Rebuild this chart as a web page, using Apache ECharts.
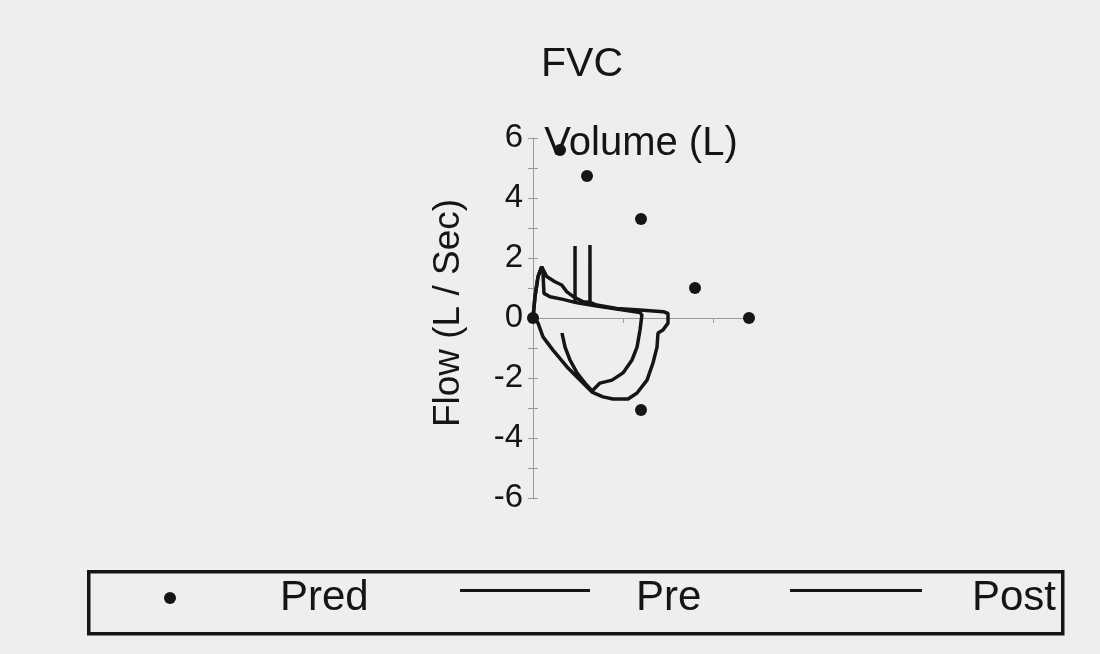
<!DOCTYPE html>
<html>
<head>
<meta charset="utf-8">
<script src="https://cdn.jsdelivr.net/npm/echarts@6/dist/echarts.min.js"></script>
<style>
html,body{margin:0;padding:0;background:#eeeeee;}
#chart{width:1100px;height:654px;}
</style>
</head>
<body>
<div id="chart"></div>
<script>
// Predicted values: [volume (L), flow (L/s)]
const predPoints = [
  [0, 0], [0.3, 5.6], [0.6, 4.73], [1.2, 3.3], [1.8, 1.0], [2.4, 0], [1.2, -3.07]
];
// Pre loop: [volume, flow]
const preCurve = [
  [0, 0], [0.022, 0.71], [0.056, 1.38], [0.097, 1.71], [0.152, 1.38], [0.244, 1.21],
  [0.319, 1.10], [0.374, 0.88], [0.448, 0.71], [0.559, 0.54], [0.633, 0.52],
  [0.633, 2.43], [0.633, 0.52],
  [0.708, 0.43], [0.930, 0.32], [1.189, 0.27], [1.448, 0.21], [1.50, 0.15],
  [1.50, -0.17], [1.444, -0.40], [1.389, -0.50], [1.378, -0.97], [1.333, -1.50],
  [1.267, -2.07], [1.156, -2.50], [1.056, -2.70], [0.889, -2.70], [0.778, -2.63],
  [0.656, -2.47], [0.522, -2.07], [0.378, -1.63], [0.222, -1.07], [0.111, -0.63],
  [0.056, -0.17], [0.022, 0]
];
// Post loop: [volume, flow]
const postCurve = [
  [0, 0], [0.022, 0.71], [0.056, 1.38], [0.097, 1.71], [0.111, 1.5], [0.122, 0.82],
  [0.189, 0.71], [0.333, 0.62], [0.467, 0.52], [0.467, 2.40], [0.467, 0.52],
  [0.522, 0.49], [0.708, 0.40], [0.930, 0.30], [1.189, 0.18], [1.21, 0.10],
  [1.189, -0.40], [1.156, -0.97], [1.10, -1.40], [1.0, -1.83], [0.878, -2.07],
  [0.744, -2.17], [0.656, -2.43], [0.578, -2.17], [0.489, -1.83], [0.411, -1.40],
  [0.356, -0.97], [0.322, -0.50]
];
const yTickLabels = ['-6', '-4', '-2', '0', '2', '4', '6'];
const seriesNames = ['Pred', 'Pre', 'Post'];
const chartTitle = 'FVC';
const xName = 'Volume (L)';
const yName = 'Flow (L / Sec)';

const FONT = 'Liberation Sans, Arial, sans-serif';
const INK = '#151515';
const AX = '#9a9a9a';

// legend line icon: a 3px bar at the top of an 18px-high box
function barIcon(w) {
  return 'path://M0,0H' + w + 'V3H0Z M0,17.9H0.05V18H0Z';
}

const chart = echarts.init(document.getElementById('chart'));
const yBase = {
  type: 'value', min: -6, max: 6, interval: 1, gridIndex: 0,
  splitLine: { show: false },
  axisLine: { show: true, onZero: true, lineStyle: { color: AX, width: 1 } }
};
const xBase = {
  type: 'value', min: 0, max: 2.4, interval: 1,
  splitLine: { show: false },
  axisLabel: { show: false }
};
chart.setOption({
  backgroundColor: '#eeeeee',
  animation: false,
  title: {
    text: chartTitle, left: 541, top: 44, padding: 0,
    textStyle: { fontFamily: FONT, fontSize: 41, fontWeight: 'normal', color: INK }
  },
  grid: { left: 533, top: 138, width: 216, height: 360, containLabel: false },
  xAxis: [
    Object.assign({}, xBase, {
      axisLine: { show: true, onZero: true, lineStyle: { color: AX, width: 1 } },
      axisTick: { show: true, length: 5, lineStyle: { color: AX } }
    }),
    Object.assign({}, xBase, {
      position: 'top',
      axisLine: { show: false, onZero: false },
      axisTick: { show: false },
      name: xName, nameLocation: 'middle', nameGap: -26,
      nameTextStyle: { fontFamily: FONT, fontSize: 40, color: INK }
    }),
    Object.assign({}, xBase, {
      axisLine: { show: true, onZero: true, lineStyle: { color: AX, width: 1 } },
      axisTick: { show: true, inside: true, length: 5, lineStyle: { color: AX } }
    })
  ],
  yAxis: [
    Object.assign({}, yBase, {
      axisTick: { show: true, length: 5, lineStyle: { color: AX } },
      axisLabel: {
        show: true, margin: 10, fontFamily: FONT, fontSize: 33, color: INK,
        formatter: function (v) { return yTickLabels.indexOf(String(v)) >= 0 ? String(v) : ''; }
      },
      name: yName, nameLocation: 'middle', nameGap: 66,
      nameTextStyle: { fontFamily: FONT, fontSize: 37, color: INK, padding: [0, 0, 0, 10] }
    }),
    Object.assign({}, yBase, {
      position: 'left',
      axisTick: { show: true, inside: true, length: 5, lineStyle: { color: AX } },
      axisLabel: { show: false }
    })
  ],
  legend: [
    {
      data: [seriesNames[0]], left: 164, top: 577, padding: 0,
      icon: 'circle', itemWidth: 12, itemHeight: 12,
      textStyle: { fontFamily: FONT, fontSize: 42, color: INK, padding: [0, 0, 0, 99] }
    },
    {
      data: [seriesNames[1]], left: 460, top: 577, padding: 0,
      icon: barIcon(130), itemWidth: 130, itemHeight: 18,
      textStyle: { fontFamily: FONT, fontSize: 42, color: INK, padding: [0, 0, 0, 41] }
    },
    {
      data: [seriesNames[2]], left: 790, top: 577, padding: 0,
      icon: barIcon(132), itemWidth: 132, itemHeight: 18,
      textStyle: { fontFamily: FONT, fontSize: 42, color: INK, padding: [0, 0, 0, 45] }
    }
  ],
  graphic: [{
    type: 'rect', left: 87, top: 570, silent: true,
    shape: { width: 974, height: 62 },
    style: { fill: 'rgba(0,0,0,0)', stroke: INK, lineWidth: 3.5 }
  }],
  series: [
    {
      name: seriesNames[0], type: 'scatter', data: predPoints,
      symbol: 'circle', symbolSize: 12, itemStyle: { color: INK, opacity: 1 }, z: 5
    },
    {
      name: seriesNames[1], type: 'line', data: preCurve, showSymbol: false, symbol: 'none',
      lineStyle: { color: INK, width: 3.5 }, itemStyle: { color: INK }
    },
    {
      name: seriesNames[2], type: 'line', data: postCurve, showSymbol: false, symbol: 'none',
      lineStyle: { color: INK, width: 3.5 }, itemStyle: { color: INK }
    }
  ]
});
</script>
</body>
</html>
